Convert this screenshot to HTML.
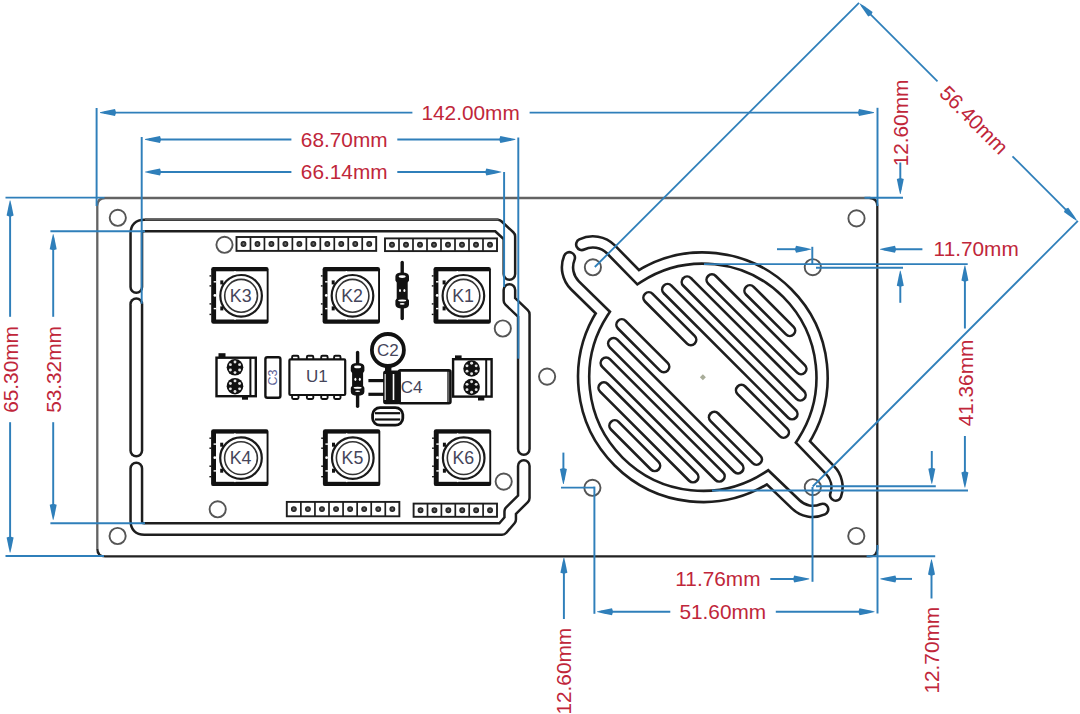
<!DOCTYPE html>
<html><head><meta charset="utf-8"><style>
html,body{margin:0;padding:0;background:#fff;}
svg{display:block;font-family:"Liberation Sans",sans-serif;}
</style></head><body>
<svg width="1080" height="714" viewBox="0 0 1080 714">
<rect width="1080" height="714" fill="#fff"/>
<path d="M97.3,548.4 L97.3,206.0 Q97.3,198.0 105.3,198.0 L869.3,198.0" fill="none" stroke="#636363" stroke-width="2.3"/>
<path d="M869.3,198.0 Q877.3,198.0 877.3,206.0 L877.3,548.4 Q877.3,556.4 869.3,556.4 L105.3,556.4 Q97.3,556.4 97.3,548.4" fill="none" stroke="#222" stroke-width="2.3"/>
<circle cx="117.8" cy="217.8" r="8.1" fill="none" stroke="#555555" stroke-width="1.9"/>
<circle cx="856.5" cy="218.4" r="8.1" fill="none" stroke="#555555" stroke-width="1.9"/>
<circle cx="117.6" cy="536.0" r="8.1" fill="none" stroke="#555555" stroke-width="1.9"/>
<circle cx="856.3" cy="536.0" r="8.1" fill="none" stroke="#555555" stroke-width="1.9"/>
<circle cx="547.1" cy="376.6" r="8.1" fill="none" stroke="#555555" stroke-width="1.9"/>
<path d="M509.4,274 L509.4,236.5 L497.5,225.5 L144.3,225.5 Q136.3,225.5 136.3,233.5 L136.3,287" fill="none" stroke="#1e1e1e" stroke-width="14.0" stroke-linecap="round" stroke-linejoin="round"/>
<path d="M509.4,274 L509.4,236.5 L497.5,225.5 L144.3,225.5 Q136.3,225.5 136.3,233.5 L136.3,287" fill="none" stroke="#fff" stroke-width="9.0" stroke-linecap="round" stroke-linejoin="round"/>
<path d="M136.3,304.2 L136.3,450.5" fill="none" stroke="#1e1e1e" stroke-width="14.0" stroke-linecap="round" stroke-linejoin="round"/>
<path d="M136.3,304.2 L136.3,450.5" fill="none" stroke="#fff" stroke-width="9.0" stroke-linecap="round" stroke-linejoin="round"/>
<path d="M136.3,468.4 L136.3,521.0 Q136.3,529.0 144.3,529.0 L502,529.0 L510.2,519.5 L510.2,511.5 L523.8,498 L523.8,466" fill="none" stroke="#1e1e1e" stroke-width="14.0" stroke-linecap="round" stroke-linejoin="round"/>
<path d="M136.3,468.4 L136.3,521.0 Q136.3,529.0 144.3,529.0 L502,529.0 L510.2,519.5 L510.2,511.5 L523.8,498 L523.8,466" fill="none" stroke="#fff" stroke-width="9.0" stroke-linecap="round" stroke-linejoin="round"/>
<path d="M523.8,449 L523.8,314.3 L509.4,300.5 L509.4,290" fill="none" stroke="#1e1e1e" stroke-width="14.0" stroke-linecap="round" stroke-linejoin="round"/>
<path d="M523.8,449 L523.8,314.3 L509.4,300.5 L509.4,290" fill="none" stroke="#fff" stroke-width="9.0" stroke-linecap="round" stroke-linejoin="round"/>
<line x1="145" y1="219.4" x2="498.5" y2="219.4" stroke="#5e5e5e" stroke-width="2.3" />
<circle cx="224.5" cy="244.8" r="8.1" fill="none" stroke="#555555" stroke-width="1.9"/>
<circle cx="502.8" cy="328.5" r="8.1" fill="none" stroke="#555555" stroke-width="1.9"/>
<circle cx="503.7" cy="481.6" r="8.1" fill="none" stroke="#555555" stroke-width="1.9"/>
<circle cx="217.7" cy="509.3" r="8.1" fill="none" stroke="#555555" stroke-width="1.9"/>
<rect x="236.5" y="237" width="139.7" height="13.9" fill="#fff" stroke="#1e1e1e" stroke-width="1.9"/>
<line x1="250.47" y1="237" x2="250.47" y2="250.9" stroke="#1e1e1e" stroke-width="1.7" />
<line x1="264.44" y1="237" x2="264.44" y2="250.9" stroke="#1e1e1e" stroke-width="1.7" />
<line x1="278.41" y1="237" x2="278.41" y2="250.9" stroke="#1e1e1e" stroke-width="1.7" />
<line x1="292.38" y1="237" x2="292.38" y2="250.9" stroke="#1e1e1e" stroke-width="1.7" />
<line x1="306.35" y1="237" x2="306.35" y2="250.9" stroke="#1e1e1e" stroke-width="1.7" />
<line x1="320.32" y1="237" x2="320.32" y2="250.9" stroke="#1e1e1e" stroke-width="1.7" />
<line x1="334.29" y1="237" x2="334.29" y2="250.9" stroke="#1e1e1e" stroke-width="1.7" />
<line x1="348.26" y1="237" x2="348.26" y2="250.9" stroke="#1e1e1e" stroke-width="1.7" />
<line x1="362.23" y1="237" x2="362.23" y2="250.9" stroke="#1e1e1e" stroke-width="1.7" />
<circle cx="243.49" cy="243.95" r="2.4" fill="#3a3a3a" stroke="#222" stroke-width="1.1"/>
<circle cx="243.49" cy="243.95" r="0.8" fill="#888"/>
<circle cx="257.45" cy="243.95" r="2.4" fill="#3a3a3a" stroke="#222" stroke-width="1.1"/>
<circle cx="257.45" cy="243.95" r="0.8" fill="#888"/>
<circle cx="271.43" cy="243.95" r="2.4" fill="#3a3a3a" stroke="#222" stroke-width="1.1"/>
<circle cx="271.43" cy="243.95" r="0.8" fill="#888"/>
<circle cx="285.39" cy="243.95" r="2.4" fill="#3a3a3a" stroke="#222" stroke-width="1.1"/>
<circle cx="285.39" cy="243.95" r="0.8" fill="#888"/>
<circle cx="299.37" cy="243.95" r="2.4" fill="#3a3a3a" stroke="#222" stroke-width="1.1"/>
<circle cx="299.37" cy="243.95" r="0.8" fill="#888"/>
<circle cx="313.34" cy="243.95" r="2.4" fill="#3a3a3a" stroke="#222" stroke-width="1.1"/>
<circle cx="313.34" cy="243.95" r="0.8" fill="#888"/>
<circle cx="327.31" cy="243.95" r="2.4" fill="#3a3a3a" stroke="#222" stroke-width="1.1"/>
<circle cx="327.31" cy="243.95" r="0.8" fill="#888"/>
<circle cx="341.27" cy="243.95" r="2.4" fill="#3a3a3a" stroke="#222" stroke-width="1.1"/>
<circle cx="341.27" cy="243.95" r="0.8" fill="#888"/>
<circle cx="355.25" cy="243.95" r="2.4" fill="#3a3a3a" stroke="#222" stroke-width="1.1"/>
<circle cx="355.25" cy="243.95" r="0.8" fill="#888"/>
<circle cx="369.22" cy="243.95" r="2.4" fill="#3a3a3a" stroke="#222" stroke-width="1.1"/>
<circle cx="369.22" cy="243.95" r="0.8" fill="#888"/>
<rect x="385" y="238.4" width="112" height="12.7" fill="#fff" stroke="#1e1e1e" stroke-width="1.9"/>
<line x1="399" y1="238.4" x2="399" y2="251.1" stroke="#1e1e1e" stroke-width="1.7" />
<line x1="413" y1="238.4" x2="413" y2="251.1" stroke="#1e1e1e" stroke-width="1.7" />
<line x1="427" y1="238.4" x2="427" y2="251.1" stroke="#1e1e1e" stroke-width="1.7" />
<line x1="441" y1="238.4" x2="441" y2="251.1" stroke="#1e1e1e" stroke-width="1.7" />
<line x1="455" y1="238.4" x2="455" y2="251.1" stroke="#1e1e1e" stroke-width="1.7" />
<line x1="469" y1="238.4" x2="469" y2="251.1" stroke="#1e1e1e" stroke-width="1.7" />
<line x1="483" y1="238.4" x2="483" y2="251.1" stroke="#1e1e1e" stroke-width="1.7" />
<circle cx="392" cy="244.75" r="2.4" fill="#3a3a3a" stroke="#222" stroke-width="1.1"/>
<circle cx="392" cy="244.75" r="0.8" fill="#888"/>
<circle cx="406" cy="244.75" r="2.4" fill="#3a3a3a" stroke="#222" stroke-width="1.1"/>
<circle cx="406" cy="244.75" r="0.8" fill="#888"/>
<circle cx="420" cy="244.75" r="2.4" fill="#3a3a3a" stroke="#222" stroke-width="1.1"/>
<circle cx="420" cy="244.75" r="0.8" fill="#888"/>
<circle cx="434" cy="244.75" r="2.4" fill="#3a3a3a" stroke="#222" stroke-width="1.1"/>
<circle cx="434" cy="244.75" r="0.8" fill="#888"/>
<circle cx="448" cy="244.75" r="2.4" fill="#3a3a3a" stroke="#222" stroke-width="1.1"/>
<circle cx="448" cy="244.75" r="0.8" fill="#888"/>
<circle cx="462" cy="244.75" r="2.4" fill="#3a3a3a" stroke="#222" stroke-width="1.1"/>
<circle cx="462" cy="244.75" r="0.8" fill="#888"/>
<circle cx="476" cy="244.75" r="2.4" fill="#3a3a3a" stroke="#222" stroke-width="1.1"/>
<circle cx="476" cy="244.75" r="0.8" fill="#888"/>
<circle cx="490" cy="244.75" r="2.4" fill="#3a3a3a" stroke="#222" stroke-width="1.1"/>
<circle cx="490" cy="244.75" r="0.8" fill="#888"/>
<rect x="286.8" y="501.9" width="112.56" height="14.4" fill="#fff" stroke="#1e1e1e" stroke-width="1.9"/>
<line x1="300.87" y1="501.9" x2="300.87" y2="516.3" stroke="#1e1e1e" stroke-width="1.7" />
<line x1="314.94" y1="501.9" x2="314.94" y2="516.3" stroke="#1e1e1e" stroke-width="1.7" />
<line x1="329.01" y1="501.9" x2="329.01" y2="516.3" stroke="#1e1e1e" stroke-width="1.7" />
<line x1="343.08" y1="501.9" x2="343.08" y2="516.3" stroke="#1e1e1e" stroke-width="1.7" />
<line x1="357.15" y1="501.9" x2="357.15" y2="516.3" stroke="#1e1e1e" stroke-width="1.7" />
<line x1="371.22" y1="501.9" x2="371.22" y2="516.3" stroke="#1e1e1e" stroke-width="1.7" />
<line x1="385.29" y1="501.9" x2="385.29" y2="516.3" stroke="#1e1e1e" stroke-width="1.7" />
<circle cx="293.84" cy="509.1" r="2.4" fill="#3a3a3a" stroke="#222" stroke-width="1.1"/>
<circle cx="293.84" cy="509.1" r="0.8" fill="#888"/>
<circle cx="307.91" cy="509.1" r="2.4" fill="#3a3a3a" stroke="#222" stroke-width="1.1"/>
<circle cx="307.91" cy="509.1" r="0.8" fill="#888"/>
<circle cx="321.98" cy="509.1" r="2.4" fill="#3a3a3a" stroke="#222" stroke-width="1.1"/>
<circle cx="321.98" cy="509.1" r="0.8" fill="#888"/>
<circle cx="336.05" cy="509.1" r="2.4" fill="#3a3a3a" stroke="#222" stroke-width="1.1"/>
<circle cx="336.05" cy="509.1" r="0.8" fill="#888"/>
<circle cx="350.12" cy="509.1" r="2.4" fill="#3a3a3a" stroke="#222" stroke-width="1.1"/>
<circle cx="350.12" cy="509.1" r="0.8" fill="#888"/>
<circle cx="364.19" cy="509.1" r="2.4" fill="#3a3a3a" stroke="#222" stroke-width="1.1"/>
<circle cx="364.19" cy="509.1" r="0.8" fill="#888"/>
<circle cx="378.25" cy="509.1" r="2.4" fill="#3a3a3a" stroke="#222" stroke-width="1.1"/>
<circle cx="378.25" cy="509.1" r="0.8" fill="#888"/>
<circle cx="392.33" cy="509.1" r="2.4" fill="#3a3a3a" stroke="#222" stroke-width="1.1"/>
<circle cx="392.33" cy="509.1" r="0.8" fill="#888"/>
<rect x="413.6" y="503.6" width="83.4" height="13.2" fill="#fff" stroke="#1e1e1e" stroke-width="1.9"/>
<line x1="427.5" y1="503.6" x2="427.5" y2="516.8" stroke="#1e1e1e" stroke-width="1.7" />
<line x1="441.4" y1="503.6" x2="441.4" y2="516.8" stroke="#1e1e1e" stroke-width="1.7" />
<line x1="455.3" y1="503.6" x2="455.3" y2="516.8" stroke="#1e1e1e" stroke-width="1.7" />
<line x1="469.2" y1="503.6" x2="469.2" y2="516.8" stroke="#1e1e1e" stroke-width="1.7" />
<line x1="483.1" y1="503.6" x2="483.1" y2="516.8" stroke="#1e1e1e" stroke-width="1.7" />
<circle cx="420.55" cy="510.2" r="2.4" fill="#3a3a3a" stroke="#222" stroke-width="1.1"/>
<circle cx="420.55" cy="510.2" r="0.8" fill="#888"/>
<circle cx="434.45" cy="510.2" r="2.4" fill="#3a3a3a" stroke="#222" stroke-width="1.1"/>
<circle cx="434.45" cy="510.2" r="0.8" fill="#888"/>
<circle cx="448.35" cy="510.2" r="2.4" fill="#3a3a3a" stroke="#222" stroke-width="1.1"/>
<circle cx="448.35" cy="510.2" r="0.8" fill="#888"/>
<circle cx="462.25" cy="510.2" r="2.4" fill="#3a3a3a" stroke="#222" stroke-width="1.1"/>
<circle cx="462.25" cy="510.2" r="0.8" fill="#888"/>
<circle cx="476.15" cy="510.2" r="2.4" fill="#3a3a3a" stroke="#222" stroke-width="1.1"/>
<circle cx="476.15" cy="510.2" r="0.8" fill="#888"/>
<circle cx="490.05" cy="510.2" r="2.4" fill="#3a3a3a" stroke="#222" stroke-width="1.1"/>
<circle cx="490.05" cy="510.2" r="0.8" fill="#888"/>
<g transform="translate(239.9,295.4)">
<rect x="-28.7" y="-28.4" width="57.4" height="56.8" rx="2.2" fill="#111"/>
<rect x="-23.8" y="-24.1" width="50.6" height="48.2" fill="#fff"/>
<rect x="-26.2" y="-14.299999999999999" width="2.6" height="1.4" fill="#fff"/>
<rect x="-26.2" y="12.5" width="2.6" height="1.4" fill="#fff"/>
<circle cx="-25.0" cy="0" r="1.4" fill="#fff"/>
<rect x="-30.4" y="-20.2" width="1.8" height="1.4" fill="#111"/>
<rect x="-30.4" y="-10.2" width="1.8" height="1.4" fill="#111"/>
<rect x="-30.4" y="7.8" width="1.8" height="1.4" fill="#111"/>
<rect x="-30.4" y="18.3" width="1.8" height="1.4" fill="#111"/>
<rect x="-5.6" y="-24.4" width="1.4" height="1.6" fill="#fff"/>
<rect x="-5.6" y="22.8" width="1.4" height="1.6" fill="#fff"/>
<circle cx="1.2" cy="0.4" r="20.8" fill="#fff" stroke="#1a1a1a" stroke-width="2.2"/>
<rect x="-19.6" y="-15" width="3" height="4" fill="#111"/>
<rect x="-19.6" y="11" width="3" height="4" fill="#111"/>
<circle cx="1.2" cy="0.4" r="16.4" fill="none" stroke="#333" stroke-width="1.6"/>
<text x="0.8" y="0.3" font-size="17.8" fill="#45455a" text-anchor="middle" dominant-baseline="central">K3</text>
</g>
<g transform="translate(351.3,295.4)">
<rect x="-28.7" y="-28.4" width="57.4" height="56.8" rx="2.2" fill="#111"/>
<rect x="-23.8" y="-24.1" width="50.6" height="48.2" fill="#fff"/>
<rect x="-26.2" y="-14.299999999999999" width="2.6" height="1.4" fill="#fff"/>
<rect x="-26.2" y="12.5" width="2.6" height="1.4" fill="#fff"/>
<circle cx="-25.0" cy="0" r="1.4" fill="#fff"/>
<rect x="-30.4" y="-20.2" width="1.8" height="1.4" fill="#111"/>
<rect x="-30.4" y="-10.2" width="1.8" height="1.4" fill="#111"/>
<rect x="-30.4" y="7.8" width="1.8" height="1.4" fill="#111"/>
<rect x="-30.4" y="18.3" width="1.8" height="1.4" fill="#111"/>
<rect x="-5.6" y="-24.4" width="1.4" height="1.6" fill="#fff"/>
<rect x="-5.6" y="22.8" width="1.4" height="1.6" fill="#fff"/>
<circle cx="1.2" cy="0.4" r="20.8" fill="#fff" stroke="#1a1a1a" stroke-width="2.2"/>
<rect x="-19.6" y="-15" width="3" height="4" fill="#111"/>
<rect x="-19.6" y="11" width="3" height="4" fill="#111"/>
<circle cx="1.2" cy="0.4" r="16.4" fill="none" stroke="#333" stroke-width="1.6"/>
<text x="0.8" y="0.3" font-size="17.8" fill="#45455a" text-anchor="middle" dominant-baseline="central">K2</text>
</g>
<g transform="translate(462.2,295.4)">
<rect x="-28.7" y="-28.4" width="57.4" height="56.8" rx="2.2" fill="#111"/>
<rect x="-23.8" y="-24.1" width="50.6" height="48.2" fill="#fff"/>
<rect x="-26.2" y="-14.299999999999999" width="2.6" height="1.4" fill="#fff"/>
<rect x="-26.2" y="12.5" width="2.6" height="1.4" fill="#fff"/>
<circle cx="-25.0" cy="0" r="1.4" fill="#fff"/>
<rect x="-30.4" y="-20.2" width="1.8" height="1.4" fill="#111"/>
<rect x="-30.4" y="-10.2" width="1.8" height="1.4" fill="#111"/>
<rect x="-30.4" y="7.8" width="1.8" height="1.4" fill="#111"/>
<rect x="-30.4" y="18.3" width="1.8" height="1.4" fill="#111"/>
<rect x="-5.6" y="-24.4" width="1.4" height="1.6" fill="#fff"/>
<rect x="-5.6" y="22.8" width="1.4" height="1.6" fill="#fff"/>
<circle cx="1.2" cy="0.4" r="20.8" fill="#fff" stroke="#1a1a1a" stroke-width="2.2"/>
<rect x="-19.6" y="-15" width="3" height="4" fill="#111"/>
<rect x="-19.6" y="11" width="3" height="4" fill="#111"/>
<circle cx="1.2" cy="0.4" r="16.4" fill="none" stroke="#333" stroke-width="1.6"/>
<text x="0.8" y="0.3" font-size="17.8" fill="#45455a" text-anchor="middle" dominant-baseline="central">K1</text>
</g>
<g transform="translate(239.8,457.7)">
<rect x="-28.7" y="-28.4" width="57.4" height="56.8" rx="2.2" fill="#111"/>
<rect x="-23.8" y="-24.1" width="50.6" height="48.2" fill="#fff"/>
<rect x="-26.2" y="-14.299999999999999" width="2.6" height="1.4" fill="#fff"/>
<rect x="-26.2" y="12.5" width="2.6" height="1.4" fill="#fff"/>
<circle cx="-25.0" cy="0" r="1.4" fill="#fff"/>
<rect x="-30.4" y="-20.2" width="1.8" height="1.4" fill="#111"/>
<rect x="-30.4" y="-10.2" width="1.8" height="1.4" fill="#111"/>
<rect x="-30.4" y="7.8" width="1.8" height="1.4" fill="#111"/>
<rect x="-30.4" y="18.3" width="1.8" height="1.4" fill="#111"/>
<rect x="-5.6" y="-24.4" width="1.4" height="1.6" fill="#fff"/>
<rect x="-5.6" y="22.8" width="1.4" height="1.6" fill="#fff"/>
<circle cx="1.2" cy="0.4" r="20.8" fill="#fff" stroke="#1a1a1a" stroke-width="2.2"/>
<rect x="-19.6" y="-15" width="3" height="4" fill="#111"/>
<rect x="-19.6" y="11" width="3" height="4" fill="#111"/>
<circle cx="1.2" cy="0.4" r="16.4" fill="none" stroke="#333" stroke-width="1.6"/>
<text x="0.8" y="0.3" font-size="17.8" fill="#45455a" text-anchor="middle" dominant-baseline="central">K4</text>
</g>
<g transform="translate(351.6,457.7)">
<rect x="-28.7" y="-28.4" width="57.4" height="56.8" rx="2.2" fill="#111"/>
<rect x="-23.8" y="-24.1" width="50.6" height="48.2" fill="#fff"/>
<rect x="-26.2" y="-14.299999999999999" width="2.6" height="1.4" fill="#fff"/>
<rect x="-26.2" y="12.5" width="2.6" height="1.4" fill="#fff"/>
<circle cx="-25.0" cy="0" r="1.4" fill="#fff"/>
<rect x="-30.4" y="-20.2" width="1.8" height="1.4" fill="#111"/>
<rect x="-30.4" y="-10.2" width="1.8" height="1.4" fill="#111"/>
<rect x="-30.4" y="7.8" width="1.8" height="1.4" fill="#111"/>
<rect x="-30.4" y="18.3" width="1.8" height="1.4" fill="#111"/>
<rect x="-5.6" y="-24.4" width="1.4" height="1.6" fill="#fff"/>
<rect x="-5.6" y="22.8" width="1.4" height="1.6" fill="#fff"/>
<circle cx="1.2" cy="0.4" r="20.8" fill="#fff" stroke="#1a1a1a" stroke-width="2.2"/>
<rect x="-19.6" y="-15" width="3" height="4" fill="#111"/>
<rect x="-19.6" y="11" width="3" height="4" fill="#111"/>
<circle cx="1.2" cy="0.4" r="16.4" fill="none" stroke="#333" stroke-width="1.6"/>
<text x="0.8" y="0.3" font-size="17.8" fill="#45455a" text-anchor="middle" dominant-baseline="central">K5</text>
</g>
<g transform="translate(462.5,457.7)">
<rect x="-28.7" y="-28.4" width="57.4" height="56.8" rx="2.2" fill="#111"/>
<rect x="-23.8" y="-24.1" width="50.6" height="48.2" fill="#fff"/>
<rect x="-26.2" y="-14.299999999999999" width="2.6" height="1.4" fill="#fff"/>
<rect x="-26.2" y="12.5" width="2.6" height="1.4" fill="#fff"/>
<circle cx="-25.0" cy="0" r="1.4" fill="#fff"/>
<rect x="-30.4" y="-20.2" width="1.8" height="1.4" fill="#111"/>
<rect x="-30.4" y="-10.2" width="1.8" height="1.4" fill="#111"/>
<rect x="-30.4" y="7.8" width="1.8" height="1.4" fill="#111"/>
<rect x="-30.4" y="18.3" width="1.8" height="1.4" fill="#111"/>
<rect x="-5.6" y="-24.4" width="1.4" height="1.6" fill="#fff"/>
<rect x="-5.6" y="22.8" width="1.4" height="1.6" fill="#fff"/>
<circle cx="1.2" cy="0.4" r="20.8" fill="#fff" stroke="#1a1a1a" stroke-width="2.2"/>
<rect x="-19.6" y="-15" width="3" height="4" fill="#111"/>
<rect x="-19.6" y="11" width="3" height="4" fill="#111"/>
<circle cx="1.2" cy="0.4" r="16.4" fill="none" stroke="#333" stroke-width="1.6"/>
<text x="0.8" y="0.3" font-size="17.8" fill="#45455a" text-anchor="middle" dominant-baseline="central">K6</text>
</g>
<line x1="402.2" y1="262.5" x2="402.2" y2="274.6" stroke="#111" stroke-width="3.4" stroke-linecap="round"/>
<line x1="402.2" y1="306.4" x2="402.2" y2="318.5" stroke="#111" stroke-width="3.4" stroke-linecap="round"/>
<path d="M395.4,276.6 Q395.4,272.6 402.2,272.6 Q409.0,272.6 409.0,276.6 L409.0,280.6 L407.7,282.6 L407.7,298.4 L409.0,300.4 L409.0,304.4 Q409.0,308.4 402.2,308.4 Q395.4,308.4 395.4,304.4 L395.4,300.4 L396.7,298.4 L396.7,282.6 L395.4,280.6 Z" fill="#111"/>
<ellipse cx="402.2" cy="276.6" rx="3.5" ry="1.3" fill="#fff"/>
<ellipse cx="400.0" cy="290.5" rx="1.0" ry="1.6" fill="#fff"/>
<ellipse cx="404.4" cy="290.5" rx="1.0" ry="1.6" fill="#fff"/>
<ellipse cx="402.2" cy="300.4" rx="4" ry="1.0" fill="#fff"/>
<ellipse cx="402.2" cy="303.9" rx="2.5" ry="0.8" fill="#fff"/>
<line x1="357.6" y1="352.5" x2="357.6" y2="364.9" stroke="#111" stroke-width="3.4" stroke-linecap="round"/>
<line x1="357.6" y1="393.8" x2="357.6" y2="406.2" stroke="#111" stroke-width="3.4" stroke-linecap="round"/>
<path d="M350.8,366.9 Q350.8,362.9 357.6,362.9 Q364.40000000000003,362.9 364.40000000000003,366.9 L364.40000000000003,370.9 L363.1,372.9 L363.1,385.8 L364.40000000000003,387.8 L364.40000000000003,391.8 Q364.40000000000003,395.8 357.6,395.8 Q350.8,395.8 350.8,391.8 L350.8,387.8 L352.1,385.8 L352.1,372.9 L350.8,370.9 Z" fill="#111"/>
<ellipse cx="357.6" cy="366.9" rx="3.5" ry="1.3" fill="#fff"/>
<ellipse cx="355.40000000000003" cy="379.35" rx="1.0" ry="1.6" fill="#fff"/>
<ellipse cx="359.8" cy="379.35" rx="1.0" ry="1.6" fill="#fff"/>
<ellipse cx="357.6" cy="387.8" rx="4" ry="1.0" fill="#fff"/>
<ellipse cx="357.6" cy="391.3" rx="2.5" ry="0.8" fill="#fff"/>
<rect x="218.5" y="353.2" width="7" height="5" fill="#111"/>
<rect x="242" y="396" width="6" height="3.7" fill="#111"/>
<rect x="216.5" y="357.7" width="39.30000000000001" height="38.5" fill="#fff" stroke="#111" stroke-width="2.4"/>
<line x1="250.4" y1="357.7" x2="250.4" y2="396.2" stroke="#111" stroke-width="2.0" />
<circle cx="235.0" cy="367.3" r="8.3" fill="#111"/>
<circle cx="239.59" cy="369.95" r="1.45" fill="#e4e4e4"/>
<circle cx="235" cy="372.6" r="1.45" fill="#e4e4e4"/>
<circle cx="230.41" cy="369.95" r="1.45" fill="#e4e4e4"/>
<circle cx="230.41" cy="364.65" r="1.45" fill="#e4e4e4"/>
<circle cx="235" cy="362" r="1.45" fill="#e4e4e4"/>
<circle cx="239.59" cy="364.65" r="1.45" fill="#e4e4e4"/>
<circle cx="235.0" cy="386.2" r="8.3" fill="#111"/>
<circle cx="239.59" cy="388.85" r="1.45" fill="#e4e4e4"/>
<circle cx="235" cy="391.5" r="1.45" fill="#e4e4e4"/>
<circle cx="230.41" cy="388.85" r="1.45" fill="#e4e4e4"/>
<circle cx="230.41" cy="383.55" r="1.45" fill="#e4e4e4"/>
<circle cx="235" cy="380.9" r="1.45" fill="#e4e4e4"/>
<circle cx="239.59" cy="383.55" r="1.45" fill="#e4e4e4"/>
<rect x="455" y="355.4" width="6.6" height="4.5" fill="#111"/>
<rect x="478" y="396.6" width="6.3" height="3.9" fill="#111"/>
<rect x="453.1" y="359.2" width="38.5" height="37.400000000000034" fill="#fff" stroke="#111" stroke-width="2.4"/>
<line x1="486.2" y1="359.2" x2="486.2" y2="396.6" stroke="#111" stroke-width="2.0" />
<circle cx="471.6" cy="368.5" r="8.3" fill="#111"/>
<circle cx="476.19" cy="371.15" r="1.45" fill="#e4e4e4"/>
<circle cx="471.6" cy="373.8" r="1.45" fill="#e4e4e4"/>
<circle cx="467.01" cy="371.15" r="1.45" fill="#e4e4e4"/>
<circle cx="467.01" cy="365.85" r="1.45" fill="#e4e4e4"/>
<circle cx="471.6" cy="363.2" r="1.45" fill="#e4e4e4"/>
<circle cx="476.19" cy="365.85" r="1.45" fill="#e4e4e4"/>
<circle cx="471.6" cy="387.0" r="8.3" fill="#111"/>
<circle cx="476.19" cy="389.65" r="1.45" fill="#e4e4e4"/>
<circle cx="471.6" cy="392.3" r="1.45" fill="#e4e4e4"/>
<circle cx="467.01" cy="389.65" r="1.45" fill="#e4e4e4"/>
<circle cx="467.01" cy="384.35" r="1.45" fill="#e4e4e4"/>
<circle cx="471.6" cy="381.7" r="1.45" fill="#e4e4e4"/>
<circle cx="476.19" cy="384.35" r="1.45" fill="#e4e4e4"/>
<rect x="265.4" y="357.3" width="15" height="40.4" rx="2" fill="#fff" stroke="#111" stroke-width="2.4"/>
<text x="273" y="377.5" font-size="12.5" fill="#5c6396" text-anchor="middle" dominant-baseline="central" transform="rotate(-90 273 377.5)">C3</text>
<rect x="292.1" y="355.7" width="6.4" height="5" rx="1.2" fill="#fff" stroke="#111" stroke-width="1.9"/>
<rect x="292.1" y="394" width="6.4" height="5" rx="1.2" fill="#fff" stroke="#111" stroke-width="1.9"/>
<rect x="306.90000000000003" y="355.7" width="6.4" height="5" rx="1.2" fill="#fff" stroke="#111" stroke-width="1.9"/>
<rect x="306.90000000000003" y="394" width="6.4" height="5" rx="1.2" fill="#fff" stroke="#111" stroke-width="1.9"/>
<rect x="321.2" y="355.7" width="6.4" height="5" rx="1.2" fill="#fff" stroke="#111" stroke-width="1.9"/>
<rect x="321.2" y="394" width="6.4" height="5" rx="1.2" fill="#fff" stroke="#111" stroke-width="1.9"/>
<rect x="334.1" y="355.7" width="6.4" height="5" rx="1.2" fill="#fff" stroke="#111" stroke-width="1.9"/>
<rect x="334.1" y="394" width="6.4" height="5" rx="1.2" fill="#fff" stroke="#111" stroke-width="1.9"/>
<rect x="289.4" y="359.4" width="55.8" height="35.6" rx="1" fill="#fff" stroke="#111" stroke-width="2.2"/>
<text x="316.8" y="376.8" font-size="17" fill="#45455a" text-anchor="middle" dominant-baseline="central">U1</text>
<rect x="385" y="362" width="6.4" height="12" fill="#111"/>
<circle cx="387.9" cy="350.0" r="16.0" fill="#fff" stroke="#111" stroke-width="3.8"/>
<text x="387.9" y="350.6" font-size="17" fill="#45455a" text-anchor="middle" dominant-baseline="central">C2</text>
<line x1="368.4" y1="380.6" x2="384" y2="380.6" stroke="#111" stroke-width="3.2" />
<line x1="368.4" y1="394.3" x2="384" y2="394.3" stroke="#111" stroke-width="3.2" />
<rect x="399" y="370.4" width="51.4" height="32.8" rx="1.5" fill="#fff" stroke="#111" stroke-width="2.6"/>
<line x1="448" y1="371" x2="448" y2="403" stroke="#111" stroke-width="1.3" />
<text x="411.6" y="387.2" font-size="17" fill="#45455a" text-anchor="middle" dominant-baseline="central">C4</text>
<rect x="383.1" y="370.6" width="17.8" height="33.6" rx="2.5" fill="#111"/>
<rect x="384.6" y="374" width="1.1" height="26" fill="#fff"/>
<rect x="392.7" y="374" width="1.6" height="26" fill="#fff"/>
<rect x="372.6" y="407.6" width="30.2" height="17.6" rx="7.5" ry="7" fill="#fff" stroke="#111" stroke-width="2.8"/>
<line x1="375" y1="413.2" x2="400.2" y2="413.2" stroke="#111" stroke-width="2.2" />
<line x1="375" y1="419.5" x2="400.2" y2="419.5" stroke="#111" stroke-width="2.2" />
<circle cx="376.2" cy="416.4" r="0.9" fill="#fff"/>
<path d="M581.76,244.47 A25.4,25.4 0 0 1 610.86,249.33 L638.12,277.16 A119.2,119.2 0 0 1 802.94,441.98 L829.92,470.09 A24.2,24.2 0 0 1 835.69,495.08" fill="none" stroke="#1e1e1e" stroke-width="13.8" stroke-linecap="round" stroke-linejoin="miter"/>
<path d="M581.76,244.47 A25.4,25.4 0 0 1 610.86,249.33 L638.12,277.16 A119.2,119.2 0 0 1 802.94,441.98 L829.92,470.09 A24.2,24.2 0 0 1 835.69,495.08" fill="none" stroke="#fff" stroke-width="8.6" stroke-linecap="round" stroke-linejoin="miter"/>
<path d="M569.34,257.78 A25.4,25.4 0 0 0 574.93,285.26 L602.76,312.52 A119.2,119.2 0 0 0 767.58,477.34 L795.69,504.32 A24.2,24.2 0 0 0 822.65,509.31" fill="none" stroke="#1e1e1e" stroke-width="13.8" stroke-linecap="round" stroke-linejoin="miter"/>
<path d="M569.34,257.78 A25.4,25.4 0 0 0 574.93,285.26 L602.76,312.52 A119.2,119.2 0 0 0 767.58,477.34 L795.69,504.32 A24.2,24.2 0 0 0 822.65,509.31" fill="none" stroke="#fff" stroke-width="8.6" stroke-linecap="round" stroke-linejoin="miter"/>
<circle cx="592.89" cy="267.29" r="8.1" fill="none" stroke="#555555" stroke-width="1.9"/>
<circle cx="812.81" cy="487.21" r="8.1" fill="none" stroke="#555555" stroke-width="1.9"/>
<circle cx="812.8" cy="267.2" r="8.1" fill="none" stroke="#555555" stroke-width="1.9"/>
<circle cx="592.4" cy="487.8" r="8.1" fill="none" stroke="#555555" stroke-width="1.9"/>
<path d="M648.79,297.67 L690.86,339.74" fill="none" stroke="#1e1e1e" stroke-width="13.4" stroke-linecap="round" stroke-linejoin="miter"/>
<path d="M648.79,297.67 L690.86,339.74" fill="none" stroke="#fff" stroke-width="8.2" stroke-linecap="round" stroke-linejoin="miter"/>
<path d="M741.42,390.3 L783.5,432.37" fill="none" stroke="#1e1e1e" stroke-width="13.4" stroke-linecap="round" stroke-linejoin="miter"/>
<path d="M741.42,390.3 L783.5,432.37" fill="none" stroke="#fff" stroke-width="8.2" stroke-linecap="round" stroke-linejoin="miter"/>
<path d="M621.78,324.68 L663.85,366.75" fill="none" stroke="#1e1e1e" stroke-width="13.4" stroke-linecap="round" stroke-linejoin="miter"/>
<path d="M621.78,324.68 L663.85,366.75" fill="none" stroke="#fff" stroke-width="8.2" stroke-linecap="round" stroke-linejoin="miter"/>
<path d="M714.41,417.31 L756.48,459.38" fill="none" stroke="#1e1e1e" stroke-width="13.4" stroke-linecap="round" stroke-linejoin="miter"/>
<path d="M714.41,417.31 L756.48,459.38" fill="none" stroke="#fff" stroke-width="8.2" stroke-linecap="round" stroke-linejoin="miter"/>
<path d="M667.6,289.46 L792.05,413.91" fill="none" stroke="#1e1e1e" stroke-width="13.4" stroke-linecap="round" stroke-linejoin="miter"/>
<path d="M667.6,289.46 L792.05,413.91" fill="none" stroke="#fff" stroke-width="8.2" stroke-linecap="round" stroke-linejoin="miter"/>
<path d="M613.58,343.49 L738.03,467.94" fill="none" stroke="#1e1e1e" stroke-width="13.4" stroke-linecap="round" stroke-linejoin="miter"/>
<path d="M613.58,343.49 L738.03,467.94" fill="none" stroke="#fff" stroke-width="8.2" stroke-linecap="round" stroke-linejoin="miter"/>
<path d="M687.12,281.97 L800.25,395.1" fill="none" stroke="#1e1e1e" stroke-width="13.4" stroke-linecap="round" stroke-linejoin="miter"/>
<path d="M687.12,281.97 L800.25,395.1" fill="none" stroke="#fff" stroke-width="8.2" stroke-linecap="round" stroke-linejoin="miter"/>
<path d="M606.08,363 L719.22,476.14" fill="none" stroke="#1e1e1e" stroke-width="13.4" stroke-linecap="round" stroke-linejoin="miter"/>
<path d="M606.08,363 L719.22,476.14" fill="none" stroke="#fff" stroke-width="8.2" stroke-linecap="round" stroke-linejoin="miter"/>
<path d="M711.94,279.78 L801.03,368.87" fill="none" stroke="#1e1e1e" stroke-width="13.4" stroke-linecap="round" stroke-linejoin="miter"/>
<path d="M711.94,279.78 L801.03,368.87" fill="none" stroke="#fff" stroke-width="8.2" stroke-linecap="round" stroke-linejoin="miter"/>
<path d="M603.89,387.82 L692.99,476.92" fill="none" stroke="#1e1e1e" stroke-width="13.4" stroke-linecap="round" stroke-linejoin="miter"/>
<path d="M603.89,387.82 L692.99,476.92" fill="none" stroke="#fff" stroke-width="8.2" stroke-linecap="round" stroke-linejoin="miter"/>
<path d="M749.84,290.66 L789.79,330.62" fill="none" stroke="#1e1e1e" stroke-width="13.4" stroke-linecap="round" stroke-linejoin="miter"/>
<path d="M749.84,290.66 L789.79,330.62" fill="none" stroke="#fff" stroke-width="8.2" stroke-linecap="round" stroke-linejoin="miter"/>
<path d="M614.78,425.72 L654.73,465.67" fill="none" stroke="#1e1e1e" stroke-width="13.4" stroke-linecap="round" stroke-linejoin="miter"/>
<path d="M614.78,425.72 L654.73,465.67" fill="none" stroke="#fff" stroke-width="8.2" stroke-linecap="round" stroke-linejoin="miter"/>
<path d="M699.85,377.25 L702.85,374.25 L705.85,377.25 L702.85,380.25 Z" fill="#a9ad9a"/>
<line x1="96.6" y1="108" x2="96.6" y2="206" stroke="#2f7fba" stroke-width="1.95" />
<line x1="877.5" y1="107.8" x2="877.5" y2="206" stroke="#2f7fba" stroke-width="1.95" />
<line x1="104" y1="112.6" x2="412.4" y2="112.6" stroke="#2f7fba" stroke-width="1.95" />
<line x1="529.6" y1="112.6" x2="870" y2="112.6" stroke="#2f7fba" stroke-width="1.95" />
<polygon points="100,112.3 105.25,111.1 115,109.1 115.8,111.6 115.8,113.6 115,116.1 105.25,114.1 100,112.9" fill="#2f7fba"/>
<polygon points="874,112.9 868.75,114.1 859,116.1 858.2,113.6 858.2,111.6 859,109.1 868.75,111.1 874,112.3" fill="#2f7fba"/>
<text x="470.6" y="112.2" font-size="20.8" fill="#c0263a" text-anchor="middle" dominant-baseline="central">142.00mm</text>
<line x1="141.7" y1="137" x2="141.7" y2="303.7" stroke="#2f7fba" stroke-width="1.95" />
<line x1="518.3" y1="137.5" x2="518.3" y2="358.7" stroke="#2f7fba" stroke-width="1.95" />
<line x1="504.1" y1="172" x2="504.1" y2="287" stroke="#2f7fba" stroke-width="1.95" />
<line x1="149" y1="139.4" x2="291.4" y2="139.4" stroke="#2f7fba" stroke-width="1.95" />
<line x1="397.3" y1="139.4" x2="511" y2="139.4" stroke="#2f7fba" stroke-width="1.95" />
<polygon points="145,139.1 150.25,137.9 160,135.9 160.8,138.4 160.8,140.4 160,142.9 150.25,140.9 145,139.7" fill="#2f7fba"/>
<polygon points="515.3,139.7 510.05,140.9 500.3,142.9 499.5,140.4 499.5,138.4 500.3,135.9 510.05,137.9 515.3,139.1" fill="#2f7fba"/>
<text x="344.2" y="139.2" font-size="20.8" fill="#c0263a" text-anchor="middle" dominant-baseline="central">68.70mm</text>
<line x1="149" y1="172" x2="291.4" y2="172" stroke="#2f7fba" stroke-width="1.95" />
<line x1="397.3" y1="172" x2="497.5" y2="172" stroke="#2f7fba" stroke-width="1.95" />
<polygon points="145,171.7 150.25,170.5 160,168.5 160.8,171 160.8,173 160,175.5 150.25,173.5 145,172.3" fill="#2f7fba"/>
<polygon points="501.3,172.3 496.05,173.5 486.3,175.5 485.5,173 485.5,171 486.3,168.5 496.05,170.5 501.3,171.7" fill="#2f7fba"/>
<text x="344.2" y="171.8" font-size="20.8" fill="#c0263a" text-anchor="middle" dominant-baseline="central">66.14mm</text>
<line x1="5.5" y1="197.6" x2="104.5" y2="197.6" stroke="#2f7fba" stroke-width="1.95" />
<line x1="5.5" y1="555.9" x2="104" y2="555.9" stroke="#2f7fba" stroke-width="1.95" />
<line x1="10.1" y1="205" x2="10.1" y2="316.8" stroke="#2f7fba" stroke-width="1.95" />
<line x1="10.1" y1="422.2" x2="10.1" y2="548" stroke="#2f7fba" stroke-width="1.95" />
<polygon points="10.4,200.6 11.6,205.85 13.6,215.6 11.1,216.4 9.1,216.4 6.6,215.6 8.6,205.85 9.8,200.6" fill="#2f7fba"/>
<polygon points="9.8,552.5 8.6,547.25 6.6,537.5 9.1,536.7 11.1,536.7 13.6,537.5 11.6,547.25 10.4,552.5" fill="#2f7fba"/>
<text x="10.2" y="369.5" font-size="20.8" fill="#c0263a" text-anchor="middle" dominant-baseline="central" transform="rotate(-90 10.2 369.5)">65.30mm</text>
<line x1="50.4" y1="231.3" x2="145" y2="231.3" stroke="#2f7fba" stroke-width="1.95" />
<line x1="50.4" y1="523.2" x2="145" y2="523.2" stroke="#2f7fba" stroke-width="1.95" />
<line x1="53.2" y1="238" x2="53.2" y2="316.8" stroke="#2f7fba" stroke-width="1.95" />
<line x1="53.2" y1="422.2" x2="53.2" y2="515.5" stroke="#2f7fba" stroke-width="1.95" />
<polygon points="53.5,234.3 54.7,239.55 56.7,249.3 54.2,250.1 52.2,250.1 49.7,249.3 51.7,239.55 52.9,234.3" fill="#2f7fba"/>
<polygon points="52.9,519.8 51.7,514.55 49.7,504.8 52.2,504 54.2,504 56.7,504.8 54.7,514.55 53.5,519.8" fill="#2f7fba"/>
<text x="53.4" y="369.5" font-size="20.8" fill="#c0263a" text-anchor="middle" dominant-baseline="central" transform="rotate(-90 53.4 369.5)">53.32mm</text>
<line x1="864.5" y1="197.8" x2="903" y2="197.8" stroke="#2f7fba" stroke-width="1.95" />
<line x1="816" y1="267.8" x2="903" y2="267.8" stroke="#2f7fba" stroke-width="1.95" />
<line x1="900.3" y1="162.5" x2="900.3" y2="190" stroke="#2f7fba" stroke-width="1.95" />
<polygon points="900,194 898.8,188.75 896.8,179 899.3,178.2 901.3,178.2 903.8,179 901.8,188.75 900.6,194" fill="#2f7fba"/>
<line x1="900.3" y1="274.5" x2="900.3" y2="302.8" stroke="#2f7fba" stroke-width="1.95" />
<polygon points="900.6,270.8 901.8,276.05 903.8,285.8 901.3,286.6 899.3,286.6 896.8,285.8 898.8,276.05 900,270.8" fill="#2f7fba"/>
<text x="900.4" y="123" font-size="20.8" fill="#c0263a" text-anchor="middle" dominant-baseline="central" transform="rotate(-90 900.4 123)">12.60mm</text>
<line x1="812.3" y1="246.8" x2="812.3" y2="264" stroke="#2f7fba" stroke-width="1.95" />
<line x1="777" y1="249.2" x2="807" y2="249.2" stroke="#2f7fba" stroke-width="1.95" />
<polygon points="811,249.5 805.75,250.7 796,252.7 795.2,250.2 795.2,248.2 796,245.7 805.75,247.7 811,248.9" fill="#2f7fba"/>
<line x1="884" y1="249.2" x2="922.4" y2="249.2" stroke="#2f7fba" stroke-width="1.95" />
<polygon points="880,248.9 885.25,247.7 895,245.7 895.8,248.2 895.8,250.2 895,252.7 885.25,250.7 880,249.5" fill="#2f7fba"/>
<text x="976.2" y="248.8" font-size="20.8" fill="#c0263a" text-anchor="middle" dominant-baseline="central">11.70mm</text>
<line x1="704" y1="264.1" x2="967.7" y2="264.1" stroke="#2f7fba" stroke-width="1.95" />
<line x1="712" y1="490.5" x2="968" y2="490.5" stroke="#2f7fba" stroke-width="1.95" />
<line x1="964.9" y1="269.5" x2="964.9" y2="328.5" stroke="#2f7fba" stroke-width="1.95" />
<polygon points="965.2,265.6 966.4,270.85 968.4,280.6 965.9,281.4 963.9,281.4 961.4,280.6 963.4,270.85 964.6,265.6" fill="#2f7fba"/>
<line x1="964.9" y1="436" x2="964.9" y2="483.5" stroke="#2f7fba" stroke-width="1.95" />
<polygon points="964.6,487.4 963.4,482.15 961.4,472.4 963.9,471.6 965.9,471.6 968.4,472.4 966.4,482.15 965.2,487.4" fill="#2f7fba"/>
<text x="965" y="383" font-size="20.8" fill="#c0263a" text-anchor="middle" dominant-baseline="central" transform="rotate(-90 965 383)">41.36mm</text>
<line x1="594.8" y1="267" x2="859" y2="2.8" stroke="#2f7fba" stroke-width="1.8" />
<line x1="812.7" y1="486.5" x2="1077.9" y2="220.9" stroke="#2f7fba" stroke-width="1.8" />
<line x1="862" y1="5.8" x2="937.5" y2="81.3" stroke="#2f7fba" stroke-width="1.8" />
<line x1="1012.5" y1="156.3" x2="1074.5" y2="218.3" stroke="#2f7fba" stroke-width="1.8" />
<polygon points="860.01,3.39 864.57,6.25 872.6,12.01 871.68,14.07 870.27,15.48 868.21,16.4 862.45,8.37 859.59,3.81" fill="#2f7fba"/>
<polygon points="1076.49,220.71 1071.93,217.85 1063.9,212.09 1064.82,210.03 1066.23,208.62 1068.29,207.7 1074.05,215.73 1076.91,220.29" fill="#2f7fba"/>
<text x="974.2" y="119.8" font-size="20.8" fill="#c0263a" text-anchor="middle" dominant-baseline="central" transform="rotate(45 974.2 119.8)">56.40mm</text>
<line x1="561" y1="487.6" x2="594.4" y2="487.6" stroke="#2f7fba" stroke-width="1.95" />
<line x1="563.4" y1="452.6" x2="563.4" y2="480" stroke="#2f7fba" stroke-width="1.95" />
<polygon points="563.1,484 561.9,478.75 559.9,469 562.4,468.2 564.4,468.2 566.9,469 564.9,478.75 563.7,484" fill="#2f7fba"/>
<line x1="563.9" y1="562" x2="563.9" y2="619" stroke="#2f7fba" stroke-width="1.95" />
<polygon points="564.2,557.8 565.4,563.05 567.4,572.8 564.9,573.6 562.9,573.6 560.4,572.8 562.4,563.05 563.6,557.8" fill="#2f7fba"/>
<text x="564" y="671.2" font-size="20.8" fill="#c0263a" text-anchor="middle" dominant-baseline="central" transform="rotate(-90 564 671.2)">12.60mm</text>
<line x1="594.4" y1="486.6" x2="594.4" y2="613.8" stroke="#2f7fba" stroke-width="1.95" />
<line x1="877.5" y1="545" x2="877.5" y2="613.5" stroke="#2f7fba" stroke-width="1.95" />
<line x1="601" y1="611.8" x2="670.3" y2="611.8" stroke="#2f7fba" stroke-width="1.95" />
<line x1="775.8" y1="611.8" x2="870.5" y2="611.8" stroke="#2f7fba" stroke-width="1.95" />
<polygon points="597,611.5 602.25,610.3 612,608.3 612.8,610.8 612.8,612.8 612,615.3 602.25,613.3 597,612.1" fill="#2f7fba"/>
<polygon points="874.5,612.1 869.25,613.3 859.5,615.3 858.7,612.8 858.7,610.8 859.5,608.3 869.25,610.3 874.5,611.5" fill="#2f7fba"/>
<text x="722.8" y="611.6" font-size="20.8" fill="#c0263a" text-anchor="middle" dominant-baseline="central">51.60mm</text>
<line x1="812.5" y1="487" x2="812.5" y2="581.8" stroke="#2f7fba" stroke-width="1.95" />
<line x1="770.3" y1="578.9" x2="805" y2="578.9" stroke="#2f7fba" stroke-width="1.95" />
<polygon points="809.2,579.2 803.95,580.4 794.2,582.4 793.4,579.9 793.4,577.9 794.2,575.4 803.95,577.4 809.2,578.6" fill="#2f7fba"/>
<line x1="884.5" y1="578.9" x2="912" y2="578.9" stroke="#2f7fba" stroke-width="1.95" />
<polygon points="880.4,578.6 885.65,577.4 895.4,575.4 896.2,577.9 896.2,579.9 895.4,582.4 885.65,580.4 880.4,579.2" fill="#2f7fba"/>
<text x="717.9" y="578.7" font-size="20.8" fill="#c0263a" text-anchor="middle" dominant-baseline="central">11.76mm</text>
<line x1="866.6" y1="556.2" x2="935.2" y2="556.2" stroke="#2f7fba" stroke-width="1.95" />
<line x1="816" y1="486.3" x2="935.8" y2="486.3" stroke="#2f7fba" stroke-width="1.95" />
<line x1="931.8" y1="451" x2="931.8" y2="480" stroke="#2f7fba" stroke-width="1.95" />
<polygon points="931.5,483.8 930.3,478.55 928.3,468.8 930.8,468 932.8,468 935.3,468.8 933.3,478.55 932.1,483.8" fill="#2f7fba"/>
<line x1="931.5" y1="563.5" x2="931.5" y2="598.5" stroke="#2f7fba" stroke-width="1.95" />
<polygon points="931.8,559.6 933,564.85 935,574.6 932.5,575.4 930.5,575.4 928,574.6 930,564.85 931.2,559.6" fill="#2f7fba"/>
<text x="931.6" y="650.2" font-size="20.8" fill="#c0263a" text-anchor="middle" dominant-baseline="central" transform="rotate(-90 931.6 650.2)">12.70mm</text>
</svg></body></html>
